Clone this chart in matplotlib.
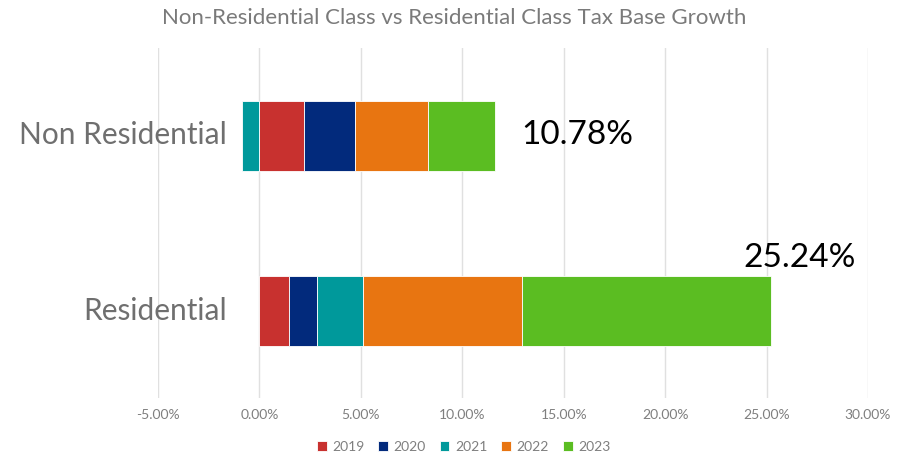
import matplotlib
matplotlib.use("Agg")
import matplotlib.pyplot as plt
import numpy as np

categories = ["Non Residential", "Residential"]
years = ["2019", "2020", "2021", "2022", "2023"]
colors = ["#c8312f", "#022a7c", "#00999b", "#e87511", "#5bbd22"]
vals_2019 = [2.22, 1.48]
vals_2020 = [2.50, 1.38]
vals_2021 = [-0.84, 2.27]
vals_2022 = [3.60, 7.83]
vals_2023 = [3.30, 12.28]
totals = ["10.78%", "25.24%"]
xticks = [-5, 0, 5, 10, 15, 20, 25, 30]

series = [vals_2019, vals_2020, vals_2021, vals_2022, vals_2023]

plt.rcParams['font.family'] = ['Lato', 'DejaVu Sans']
fig = plt.figure(figsize=(9.09, 4.54), dpi=100)
ax = fig.add_axes([158/909, 1-398/454, (868-158)/909, 350/454])

ypos = np.array([1, 0])  # Non Residential on top
pos_left = np.zeros(2)
neg_left = np.zeros(2)
for vals, c, lab in zip(series, colors, years):
    v = np.array(vals)
    left = np.where(v >= 0, pos_left, neg_left)
    ax.barh(ypos, v, left=left, height=0.4, color=c, label=lab,
            edgecolor="white", linewidth=0.6, zorder=3)
    pos_left = np.where(v >= 0, pos_left + v, pos_left)
    neg_left = np.where(v < 0, neg_left + v, neg_left)

ax.set_xlim(-5, 30)
ax.set_ylim(-0.5, 1.5)
ax.set_xticks(xticks)
ax.set_xticklabels([f"{t:.2f}%" for t in xticks], color="#7f7f7f", fontsize=10)
ax.set_yticks([])
ax.tick_params(axis="both", length=0, pad=8)
ax.grid(axis="x", color="#e0e0e0", linewidth=1, zorder=0)
for s in ax.spines.values():
    s.set_visible(False)

for y, cat in zip(ypos, categories):
    ax.text(-1.6, y, cat, fontsize=21.5, color="#6f6f6f", va="center", ha="right",
            clip_on=False)

ax.text(12.9, 1, totals[0], fontsize=24, color="black", va="center", ha="left")
ax.text(23.85, 0.3, totals[1], fontsize=24, color="black", va="center", ha="left")

fig.text(0.5, 0.96, "Non-Residential Class vs Residential Class Tax Base Growth",
         ha="center", va="center", fontsize=16, color="#7a7a7a")

leg = fig.legend(loc="center", bbox_to_anchor=(0.51, 0.015), ncol=5, frameon=False,
                 fontsize=10, handlelength=0.7, handleheight=0.7, handletextpad=0.4,
                 columnspacing=1.0)
for t in leg.get_texts():
    t.set_color("#7f7f7f")

fig.savefig("out.png", dpi=100)
